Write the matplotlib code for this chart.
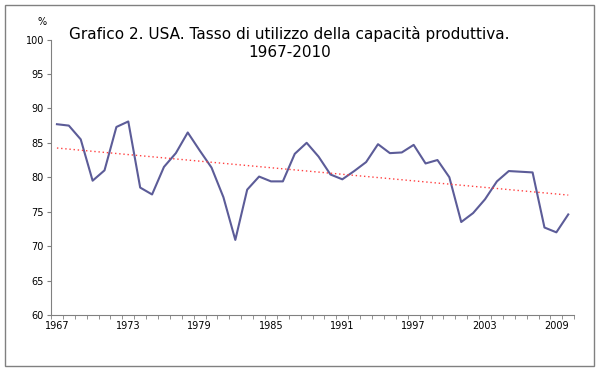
import numpy as np
import matplotlib.pyplot as plt
from matplotlib.patches import Rectangle

# Capacity utilization, USA, 1967-2010
years = list(range(1967, 2011))
utilizzo = [87.7, 87.5, 85.5, 79.5, 81.0, 87.3, 88.1, 78.5, 77.5, 81.5,
            83.5, 86.5, 83.9, 81.4, 77.1, 70.9, 78.2, 80.1, 79.4, 79.4,
            83.4, 85.0, 83.0, 80.4, 79.7, 80.9, 82.2, 84.8, 83.5, 83.6,
            84.7, 82.0, 82.5, 80.0, 73.5, 74.8, 76.8, 79.4, 80.9, 80.8,
            80.7, 72.7, 72.0, 74.6]
label_years = [1967, 1973, 1979, 1985, 1991, 1997, 2003, 2009]
yticks = [60, 65, 70, 75, 80, 85, 90, 95, 100]

fig = plt.figure(figsize=(6, 3.71), dpi=100)
fig.patches.append(Rectangle((5 / 600, 5 / 371), 589 / 600, 361 / 371,
                             transform=fig.transFigure, fill=False,
                             edgecolor='#808080', linewidth=1))

ax = fig.add_axes([0.085, 0.151, 0.872, 0.7425])
x = np.arange(len(years))
ax.plot(x, utilizzo, color='#5c5c98', linewidth=1.5)

# linear trend line (Excel style)
coef = np.polyfit(x, utilizzo, 1)
ax.plot(x, np.polyval(coef, x), color='#ff4040', linestyle=(0, (1, 2)), linewidth=1.0)

ax.set_xlim(-0.5, len(years) - 0.5)
ax.set_ylim(60, 100)
ax.set_yticks(yticks)
ax.set_yticklabels([str(v) for v in yticks], fontsize=7)
ax.set_xticks([years.index(y) for y in label_years])
ax.set_xticklabels([str(y) for y in label_years], fontsize=7)
ax.set_xticks(np.arange(-0.5, len(years)), minor=True)
ax.tick_params(axis='x', which='major', length=0, pad=4)
ax.tick_params(axis='x', which='minor', length=3, color='#808080', direction='out')
ax.tick_params(axis='y', length=3, color='#808080', direction='out', pad=2)

for s in ['top', 'right']:
    ax.spines[s].set_visible(False)
for s in ['left', 'bottom']:
    ax.spines[s].set_color('#808080')

fig.text(0.063, 0.94, '%', fontsize=7, ha='left', va='center')
fig.text(0.482, 0.885, 'Grafico 2. USA. Tasso di utilizzo della capacità produttiva.\n1967-2010',
         fontsize=11, ha='center', va='center', linespacing=1.25)

fig.savefig('out.png', dpi=100)
